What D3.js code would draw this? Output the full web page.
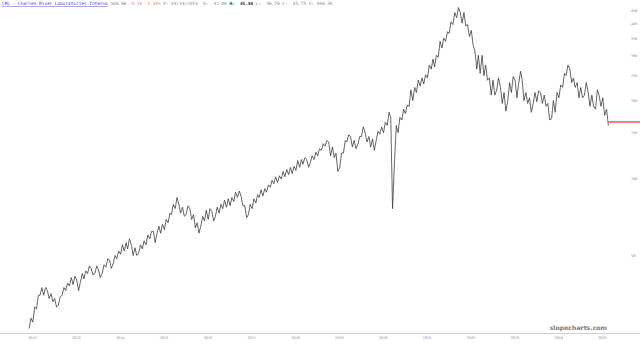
<!DOCTYPE html>
<html><head><meta charset="utf-8">
<script src="https://cdn.jsdelivr.net/npm/d3@7"></script>
<style>html,body{margin:0;padding:0;background:#fff;}svg{display:block;}</style>
</head><body>
<svg id="c" width="640" height="344"></svg>
<script>
// Monthly price ranges, Dec 2011 .. Feb 2025
const startMonth = "2011-12";
const lows = [
 26.0,
 27.5,31,35,35,34,33,31.5,32,35,36.5,38,38.5,
 36.5,39.5,40.5,42.5,42,42.5,41,42.5,45,44.5,46.5,48.5,
 50.5,52,53,50,50,51,53,55,58,56,61,61,
 63,67,72,76,73,71,72,69,64,61,65,68,
 69,68,71,73,76,77,78,81,84,78,70,72,
 76,80,84,85,88,92,95,96,99,101,103,104,
 107,110,113,110,115,118,122,128,133,122,120,106,
 110,125,138,132,130,135,145,138,132,128,140,148,
 150,160,76,115,150,168,178,190,200,215,228,232,
 245,265,270,295,320,340,365,395,420,400,390,355,
 330,265,255,250,240,210,210,220,195,182,200,215,
 205,235,200,195,180,195,198,195,190,168,170,180,
 205,225,250,235,225,205,205,210,190,190,185,190,
 175,160
];
const highs = [
 28.5,
 31.5,35,37.5,37.5,36.5,35.5,34,34.5,37.5,39,41,41.5,
 40,42.5,43.5,45.5,44.5,45.5,44,46,48.5,48,50,52,
 55,56,58,55,53.5,55,57,60,62,62,65,66,
 69,73,79,84,79,77,78,76,72,67,71,75,
 76,74,77,79,82,83,84,88,89,85,78,79,
 83,86,90,91,94,98,101,102,106,108,110,111,
 117,118,120,118,122,126,130,136,140,138,132,125,
 125,140,147,145,140,145,158,150,145,142,152,158,
 165,180,172,160,172,185,192,220,225,240,245,252,
 275,290,300,340,350,370,405,440,460,440,440,395,
 375,310,300,300,275,245,240,245,225,215,235,248,
 240,260,240,215,205,215,218,215,210,195,200,215,
 230,255,275,265,245,235,225,235,215,210,220,210,
 205,185
];
const lastPrice = 165;
const yTicks = [50,100,150,200,250,300,350,400,450];
const xYears = [2012,2013,2014,2015,2016,2017,2018,2019,2020,2021,2022,2023,2024,2025];
const header = {
  name: "CRL - Charles River Laboratories Interna",
  price: "160.98",
  change: "-3.16 -1.33%",
  rest1: "D: 03/13/2013  O:  41.00 ",
  hLabel: "H:  45.80",
  rest2: " L:  40.78 C:  45.75 V: 400.2K"
};

const svg = d3.select("#c");
const x = d3.scaleTime().domain([new Date(2012,0,1), new Date(2025,0,1)]).range([32, 602]);
const y = d3.scaleLog().domain([50,450]).range([255.4, 10]);

const parse = d3.timeParse("%Y-%m");
const t0 = parse(startMonth);
const pts = [];
lows.forEach((lo,i)=>{
  const hi = highs[i];
  const a = d3.timeDay.offset(d3.timeMonth.offset(t0,i),7);
  const b = d3.timeDay.offset(d3.timeMonth.offset(t0,i),22);
  const prevMid = i>0 ? (lows[i-1]+highs[i-1])/2 : lo;
  const up = (lo+hi)/2 >= prevMid;
  if(up){ pts.push([a,lo],[b,hi]); } else { pts.push([a,hi],[b,lo]); }
});

// axis baseline
svg.append("line").attr("x1",0).attr("x2",640).attr("y1",333.5).attr("y2",333.5)
  .attr("stroke","#cfcfcf").attr("stroke-width",1);

// price path
const line = d3.line().x(d=>x(d[0])).y(d=>y(d[1])).curve(d3.curveLinear);
svg.append("path").datum(pts).attr("d",line).attr("fill","none")
  .attr("stroke","#333").attr("stroke-width",0.75).attr("stroke-linejoin","miter");

// last price line
svg.append("line").attr("x1",x(new Date(2025,1,20))).attr("x2",640)
  .attr("y1",y(lastPrice)).attr("y2",y(lastPrice))
  .attr("stroke","#ee7b7b").attr("stroke-width",2);

// y axis labels
const yAxis = d3.axisRight(y).tickValues(yTicks).tickSize(0).tickPadding(0).tickFormat(d3.format("d"));
const gy = svg.append("g").attr("transform","translate(631,0)").call(yAxis);
gy.select(".domain").remove();
gy.selectAll("text").attr("font-family","DejaVu Sans Mono").attr("font-size",3.6).attr("fill","#8a8aa8");

// x axis labels
const xAxis = d3.axisBottom(x).tickValues(xYears.map(yy=>new Date(yy,0,1))).tickSize(0).tickPadding(0).tickFormat(d3.timeFormat("%Y"));
const gx = svg.append("g").attr("transform","translate(0,336)").call(xAxis);
gx.select(".domain").remove();
gx.selectAll("text").attr("font-family","DejaVu Sans Mono").attr("font-size",3.6).attr("fill","#8a8aa8");

// watermark
svg.append("text").attr("x",607).attr("y",330).attr("text-anchor","end")
  .attr("font-family","DejaVu Sans").attr("font-size",6.2).attr("font-weight","bold")
  .attr("fill","#7a7a7a").text("slopecharts.com");

// header
const ht = svg.append("text").attr("x",2).attr("y",5.2)
  .attr("font-family","DejaVu Sans Mono").attr("font-size",4.4).attr("xml:space","preserve");
ht.append("tspan").attr("fill","#3b3bd0").attr("text-decoration","underline").text(header.name);
ht.append("tspan").attr("fill","#888").text(" " + header.price + " ");
ht.append("tspan").attr("fill","#e07a7a").text(header.change);
ht.append("tspan").attr("fill","#888").text(" " + header.rest1);
ht.append("tspan").attr("fill","#333").attr("font-weight","bold").text(header.hLabel);
ht.append("tspan").attr("fill","#888").text(header.rest2);
</script>
</body></html>
